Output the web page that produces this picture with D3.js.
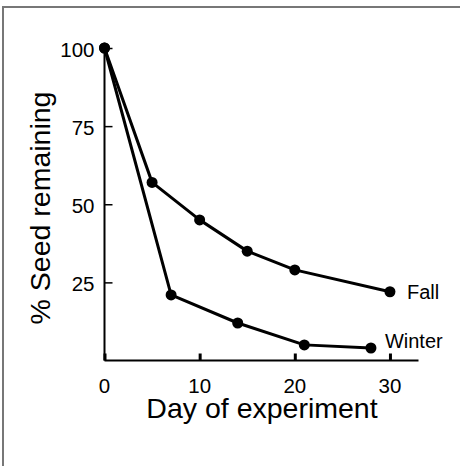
<!DOCTYPE html>
<html>
<head>
<meta charset="utf-8">
<script src="https://cdn.jsdelivr.net/npm/d3@7"></script>
<style>
  body { margin: 0; background: #fff; }
  text { font-family: "Liberation Sans", Arial, sans-serif; fill: #000; }
</style>
</head>
<body>
<div id="chart"></div>
<script>
// Data
const fallDays = [0, 5, 10, 15, 20, 30];
const fallValues = [100, 57, 45, 35, 29, 22];
const winterDays = [0, 7, 14, 21, 28];
const winterValues = [100, 21, 12, 5, 4];
const xTicks = [0, 10, 20, 30];
const yTicks = [25, 50, 75, 100];
const seriesNames = ["Fall", "Winter"];

const W = 460, H = 466;

let svg = d3.select("#chart").append("svg")
    .attr("width", W)
    .attr("height", H);

// open frame: top and left only
svg.append("path")
    .attr("d", "M3," + H + "V7H" + W)
    .attr("fill", "none")
    .attr("stroke", "#777")
    .attr("stroke-width", 2);

// Scales
let x = d3.scaleLinear()
    .domain([0, 33])
    .range([104.5, 418.5]);

let y = d3.scaleLinear()
    .domain([0, 100])
    .range([360.5, 48]);

// y axis, ticks pointing inward
let yAxis = d3.axisRight(y)
    .tickValues(yTicks)
    .tickSize(8)
    .tickFormat("");

svg.append("g")
    .attr("transform", "translate(" + x(0) + ",0)")
    .call(yAxis)
    .call(g => g.select(".domain").attr("d", "M0," + y(0) + "V" + y(100)).attr("stroke-width", 2))
    .call(g => g.selectAll(".tick line").attr("stroke-width", 1.5));

// x axis, ticks pointing up
let xAxis = d3.axisTop(x)
    .tickValues(xTicks)
    .tickSize(7)
    .tickFormat("");

svg.append("g")
    .attr("transform", "translate(0," + y(0) + ")")
    .call(xAxis)
    .call(g => g.select(".domain").attr("d", "M" + x(0) + ",0H" + x(33)).attr("stroke-width", 2))
    .call(g => g.selectAll(".tick line").attr("stroke-width", 3));

// tick labels
svg.append("g").selectAll("text")
    .data(yTicks)
    .join("text")
    .attr("x", x(0) - 10)
    .attr("y", d => y(d) + 9)
    .attr("text-anchor", "end")
    .style("font-size", "20.5px")
    .text(d => d);

svg.append("g").selectAll("text")
    .data(xTicks)
    .join("text")
    .attr("x", d => x(d))
    .attr("y", 393)
    .attr("text-anchor", "middle")
    .style("font-size", "20.5px")
    .text(d => d);

// axis titles
svg.append("text")
    .attr("x", 262)
    .attr("y", 418)
    .attr("text-anchor", "middle")
    .style("font-size", "28.5px")
    .text("Day of experiment");

svg.append("text")
    .attr("transform", "translate(50,208) rotate(-90)")
    .attr("text-anchor", "middle")
    .style("font-size", "28.5px")
    .text("% Seed remaining");

// series
const series = [
    { name: seriesNames[0], pts: fallDays.map((d, i) => [d, fallValues[i]]) },
    { name: seriesNames[1], pts: winterDays.map((d, i) => [d, winterValues[i]]) }
];

let line = d3.line()
    .x(d => x(d[0]))
    .y(d => y(d[1]));

series.forEach(s => {
    svg.append("path")
        .datum(s.pts)
        .attr("d", line)
        .attr("fill", "none")
        .attr("stroke", "#000")
        .attr("stroke-width", 3)
        .attr("stroke-linejoin", "round");

    svg.append("g").selectAll("circle")
        .data(s.pts)
        .join("circle")
        .attr("cx", d => x(d[0]))
        .attr("cy", d => y(d[1]))
        .attr("r", 5.5)
        .attr("fill", "#000");
});

// series labels
const fallLast = series[0].pts[series[0].pts.length - 1];
const winterLast = series[1].pts[series[1].pts.length - 1];

svg.append("text")
    .attr("x", x(fallLast[0]) + 17)
    .attr("y", y(fallLast[1]) + 7)
    .style("font-size", "20px")
    .text(series[0].name);

svg.append("text")
    .attr("x", x(winterLast[0]) + 14)
    .attr("y", y(winterLast[1]))
    .style("font-size", "20px")
    .text(series[1].name);
</script>
</body>
</html>
